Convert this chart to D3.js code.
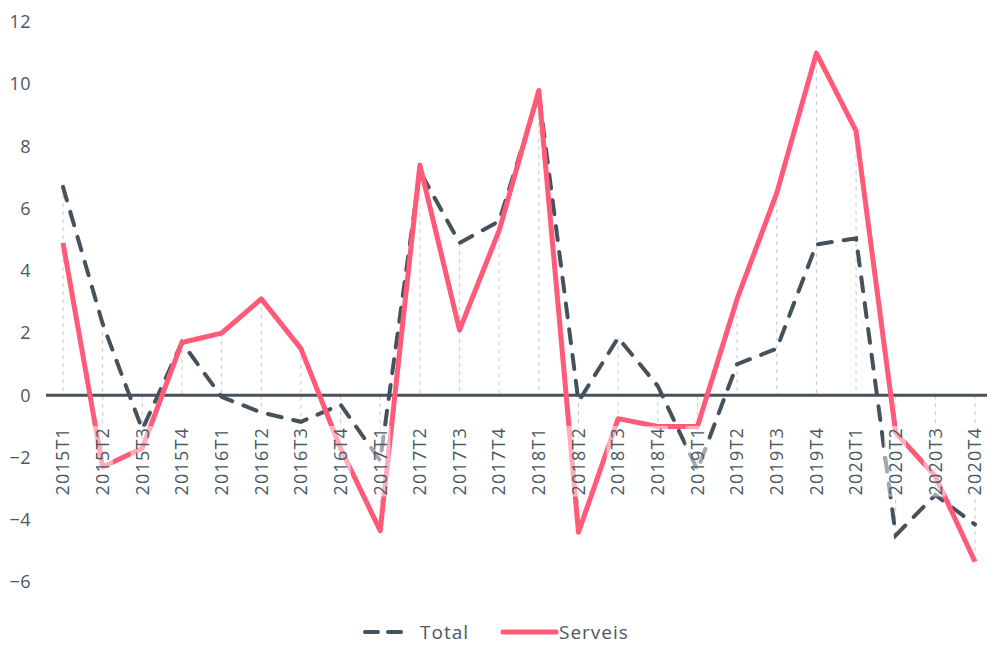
<!DOCTYPE html>
<html>
<head>
<meta charset="utf-8">
<script src="https://cdn.jsdelivr.net/npm/d3@7"></script>
<style>
  body { margin: 0; background: #fff; }
  text { font-family: "Open Sans", sans-serif; fill: #4a5863; }
</style>
</head>
<body>
<script>
// quarters
var categories = ["2015T1","2015T2","2015T3","2015T4","2016T1","2016T2","2016T3","2016T4",
  "2017T1","2017T2","2017T3","2017T4","2018T1","2018T2","2018T3","2018T4",
  "2019T1","2019T2","2019T3","2019T4","2020T1","2020T2","2020T3","2020T4"];

var total = [6.7, 2.3, -1.1, 1.7, -0.05, -0.55, -0.85, -0.3,
  -2.1, 7.2, 4.9, 5.6, 9.7, -0.2, 1.85, 0.3,
  -2.4, 1.0, 1.5, 4.85, 5.05, -4.5, -3.2, -4.15];

var serveis = [4.9, -2.3, -1.7, 1.7, 2.0, 3.1, 1.5, -1.7,
  -4.35, 7.4, 2.1, 5.3, 9.8, -4.4, -0.75, -1.0,
  -1.0, 3.1, 6.5, 11.0, 8.5, -1.2, -2.6, -5.35];

var yTicks = [-6, -4, -2, 0, 2, 4, 6, 8, 10, 12];

var W = 987, H = 646;
var dark = "#45525c", pink = "#ff5a78";

var svg = d3.select("body").append("svg")
    .attr("width", W)
    .attr("height", H);

var x = d3.scalePoint().domain(categories).range([63, 975]);
var y = d3.scaleLinear().domain([-6, 12]).range([582, 22]);

// y tick labels
var yAxis = svg.append("g")
    .attr("transform", "translate(31,0)")
    .call(d3.axisLeft(y).tickValues(yTicks).tickSize(0).tickPadding(0).tickFormat(d3.format("d")));
yAxis.select(".domain").remove();
yAxis.selectAll("text")
    .style("font-family", '"Open Sans", sans-serif')
    .style("font-size", "18px")
    .style("letter-spacing", "0.5px")
    .style("fill", "#4a5863");

// drop lines
categories.forEach(function(c, i) {
    var top = Math.max(0, total[i], serveis[i]);
    var bot = Math.min(0, total[i], serveis[i]);
    svg.append("line")
        .attr("x1", x(c)).attr("x2", x(c))
        .attr("y1", y(top)).attr("y2", y(bot))
        .attr("stroke", "#c3cbd2")
        .attr("stroke-width", 1)
        .attr("stroke-dasharray", "4,4");
});

// zero line
svg.append("line")
    .attr("x1", 46).attr("x2", W)
    .attr("y1", y(0)).attr("y2", y(0))
    .attr("stroke", dark)
    .attr("stroke-width", 3);

var line = d3.line()
    .x(function(d, i) { return x(categories[i]); })
    .y(function(d) { return y(d); });

svg.append("path")
    .datum(total)
    .attr("d", line)
    .attr("fill", "none")
    .attr("stroke", dark)
    .attr("stroke-width", 4)
    .attr("stroke-linecap", "round")
    .attr("stroke-dasharray", "14,12");

svg.append("path")
    .datum(serveis)
    .attr("d", line)
    .attr("fill", "none")
    .attr("stroke", pink)
    .attr("stroke-width", 5)
    .attr("stroke-linejoin", "round");

// category labels, rotated, with a half-white box behind
var labels = svg.append("g").selectAll("g")
    .data(categories)
    .enter().append("g")
    .attr("transform", function(d) { return "translate(" + x(d) + ",427) rotate(-90)"; });

labels.append("text")
    .attr("text-anchor", "end")
    .attr("dy", "0.35em")
    .style("font-size", "18px")
    .style("letter-spacing", "1.2px")
    .text(function(d) { return d; });

labels.each(function() {
    var g = d3.select(this);
    var b = g.select("text").node().getBBox();
    g.insert("rect", "text")
        .attr("x", b.x - 1).attr("y", b.y + 1)
        .attr("width", b.width + 2).attr("height", b.height - 2)
        .attr("fill", "#fff")
        .attr("fill-opacity", 0.5);
});

// legend
var lg = svg.append("g").attr("transform", "translate(0,632)");
lg.append("line")
    .attr("x1", 365).attr("x2", 408)
    .attr("stroke", dark).attr("stroke-width", 4)
    .attr("stroke-linecap", "round")
    .attr("stroke-dasharray", "13,10");
lg.append("text").attr("x", 420).attr("dy", "0.35em")
    .style("font-size", "19px").style("letter-spacing", "1px").text("Total");
lg.append("line")
    .attr("x1", 503).attr("x2", 556)
    .attr("stroke", pink).attr("stroke-width", 5)
    .attr("stroke-linecap", "round");
lg.append("text").attr("x", 559).attr("dy", "0.35em")
    .style("font-size", "19px").style("letter-spacing", "1px").text("Serveis");
</script>
</body>
</html>
